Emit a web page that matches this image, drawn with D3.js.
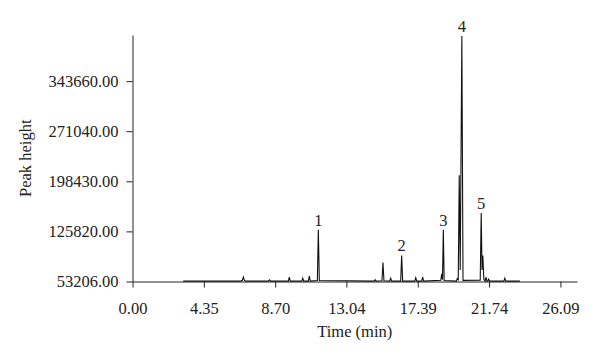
<!DOCTYPE html>
<html>
<head>
<meta charset="utf-8">
<script src="https://cdn.jsdelivr.net/npm/d3@7"></script>
<style>
  body { margin: 0; background: #fff; }
  .axis text { font-family: "Liberation Serif", "Times New Roman", serif; font-size: 16.5px; fill: #222; }
  .axis path, .axis line { stroke: #222; }
  .lbl { font-family: "Liberation Serif", "Times New Roman", serif; font-size: 16.5px; fill: #222; }
</style>
</head>
<body>
<div id="chart"></div>
<script>
// chromatogram trace (min, peak height)
var retentionTime = [3.09, 6.60, 6.70, 6.76, 6.82, 6.90, 8.28, 8.35, 8.42, 9.50, 9.56, 9.62,
  10.32, 10.38, 10.44, 10.72, 10.78, 10.84, 11.27, 11.33, 11.39, 14.73, 14.79, 14.85,
  15.21, 15.27, 15.33, 15.68, 15.74, 15.80, 16.35, 16.41, 16.47, 17.21, 17.27, 17.33,
  17.63, 17.69, 17.75, 18.80, 18.85, 18.90, 18.95, 19.00, 19.75, 19.80, 19.86, 19.92,
  19.98, 20.08, 20.15, 21.20, 21.26, 21.31, 21.36, 21.42, 21.50, 21.55, 21.61, 21.66,
  21.71, 21.77, 22.64, 22.70, 22.76, 23.62];
var signal = [53800, 53800, 55000, 59450, 54800, 53800, 53800, 55700, 53800, 53800, 59450, 53800,
  53800, 58000, 53800, 53800, 60900, 53800, 54600, 128300, 54600, 53800, 55700, 53800,
  54400, 80800, 54400, 53800, 58000, 53800, 53800, 90970, 53800, 53800, 58600, 53800,
  53800, 59450, 53800, 55000, 64400, 56000, 128300, 54600, 53800, 57500, 56000, 207100,
  70000, 409000, 54800, 55000, 152400, 70000, 90970, 56000, 53800, 59450, 53800, 53800,
  56800, 53800, 53800, 58000, 53800, 53800];

var xTicks = [0, 4.35, 8.70, 13.04, 17.39, 21.74, 26.09];
var yTicks = [53206, 125820, 198430, 271040, 343660];

var peakLabels = ["1", "2", "3", "4", "5"];
var peakTimes = [11.33, 16.41, 18.95, 20.08, 21.26];
var peakTops = [128300, 90970, 128300, 409000, 152400];

var width = 600,
    height = 362,
    svg = d3.select("#chart").append("svg")
      .attr("width", width)
      .attr("height", height),
    x = d3.scaleLinear().domain([0, 27.1]).range([132.5, 577]),
    y = d3.scaleLinear().domain([53206, 410500]).range([281.5, 35]);

var trace = retentionTime.map(function (t, i) { return [t, signal[i]]; });

svg.append("g")
  .attr("class", "axis")
  .attr("transform", "translate(0," + y(53206) + ")")
  .call(d3.axisBottom(x).tickValues(xTicks).tickFormat(d3.format(".2f"))
    .tickSize(6).tickSizeOuter(0).tickPadding(15));

svg.append("g")
  .attr("class", "axis")
  .attr("transform", "translate(" + x(0) + ",0)")
  .call(d3.axisLeft(y).tickValues(yTicks).tickFormat(d3.format(".2f"))
    .tickSize(6).tickSizeOuter(0).tickPadding(8));

svg.append("path")
  .datum(trace)
  .attr("fill", "none")
  .attr("stroke", "#111")
  .attr("stroke-width", 1.1)
  .attr("d", d3.line()
    .x(function (d) { return x(d[0]); })
    .y(function (d) { return y(d[1]); }));

svg.selectAll(".lbl")
  .data(peakLabels)
  .enter().append("text")
  .attr("class", "lbl")
  .attr("text-anchor", "middle")
  .attr("x", function (d, i) { return x(peakTimes[i]); })
  .attr("y", function (d, i) { return y(peakTops[i]) - 4; })
  .text(function (d) { return d; });

// axis titles
svg.append("text")
  .attr("class", "lbl")
  .attr("text-anchor", "middle")
  .attr("x", (x.range()[0] + x.range()[1]) / 2)
  .attr("y", 337)
  .text("Time (min)");

svg.append("text")
  .attr("class", "lbl")
  .attr("text-anchor", "middle")
  .attr("transform", "translate(31," + ((y.range()[0] + y.range()[1]) / 2) + ") rotate(-90)")
  .text("Peak height");
</script>
</body>
</html>
